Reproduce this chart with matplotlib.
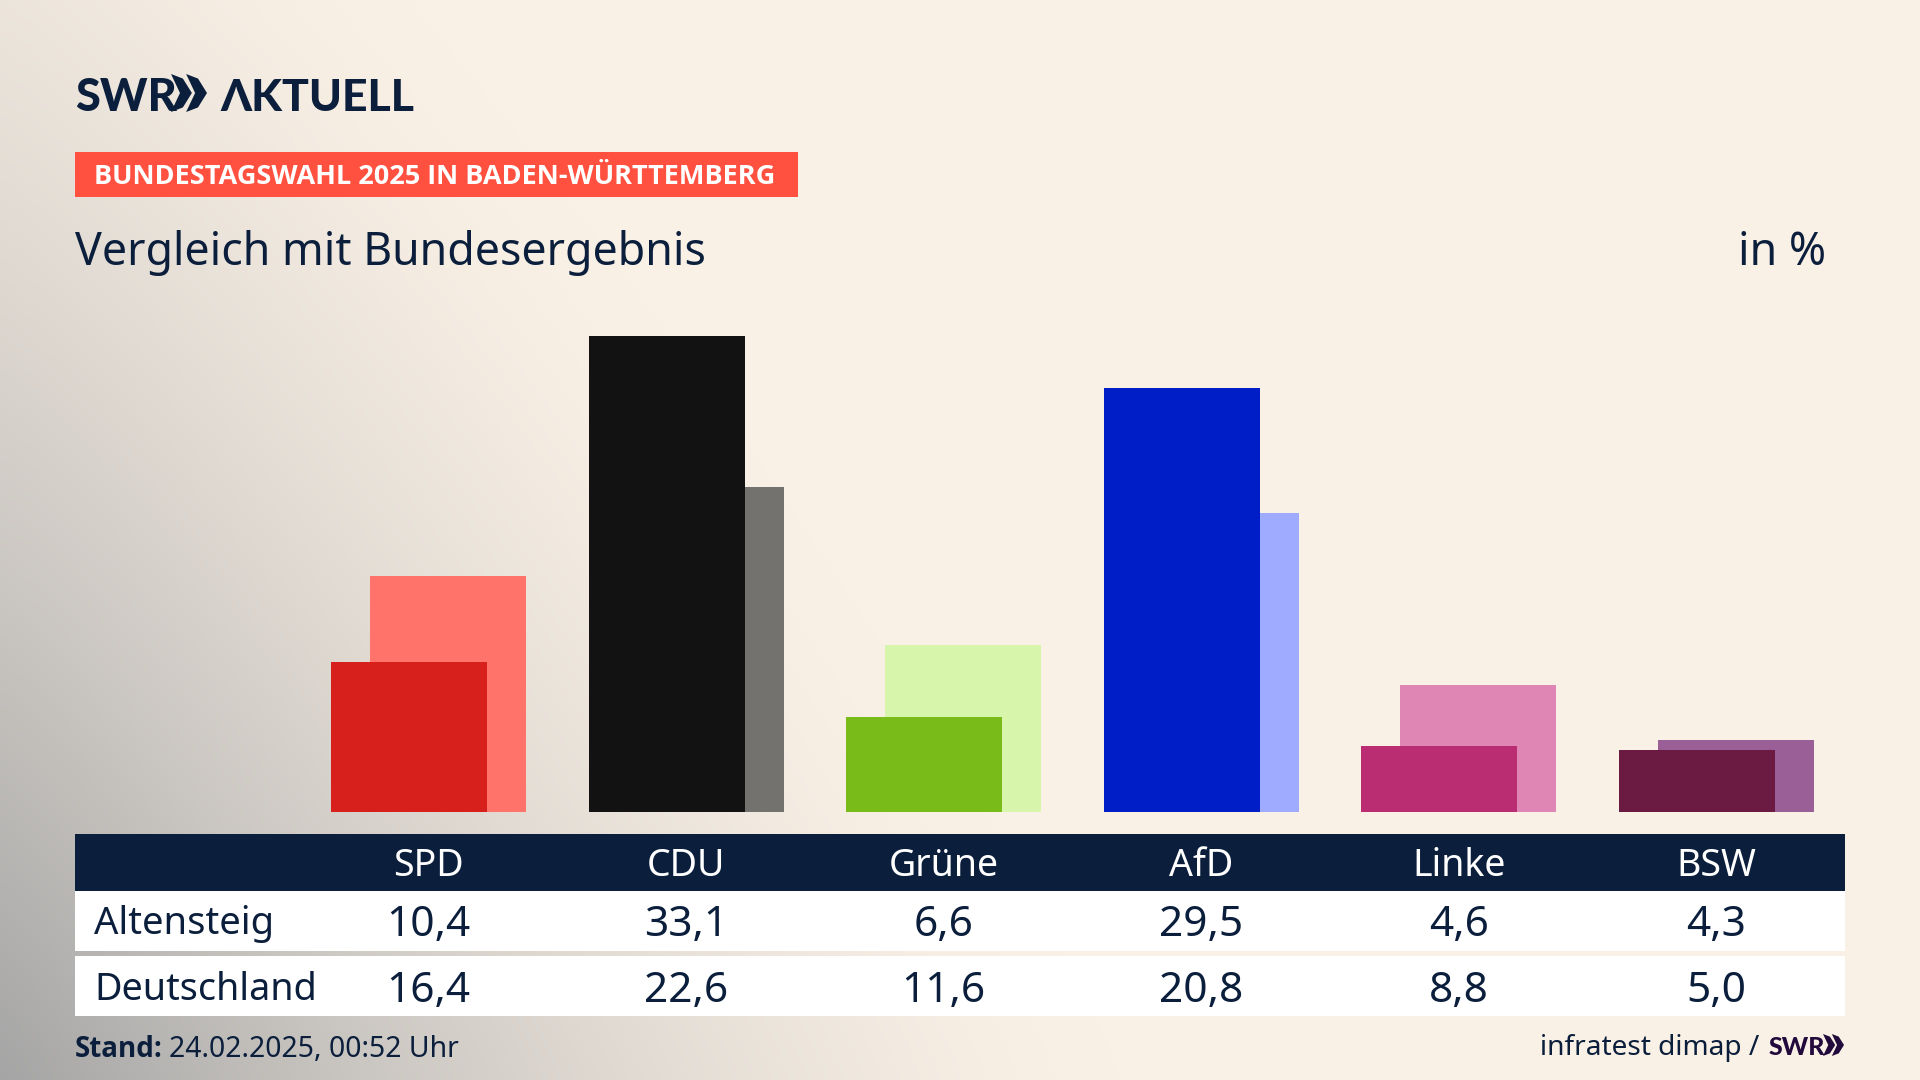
import numpy as np
from matplotlib import pyplot as plt
from matplotlib.patches import Rectangle, Polygon

parties = ['SPD', 'CDU', 'Grüne', 'AfD', 'Linke', 'BSW']
altensteig = [10.4, 33.1, 6.6, 29.5, 4.6, 4.3]
deutschland = [16.4, 22.6, 11.6, 20.8, 8.8, 5.0]
front_colors = ['#D71F1C', '#121212', '#79BC1A', '#001EC8', '#BA2D73', '#6B1A41']
back_colors = ['#FF736B', '#73726F', '#D7F6AB', '#9EABFF', '#DF86B4', '#9A5F96']

NAVY = '#0B1F3C'
plt.rcParams['font.family'] = 'Noto Sans'

W, H = 1920, 1080
fig = plt.figure(figsize=(19.2, 10.8), dpi=100)

# overlay in pixel coords for background, table and texts
bg = fig.add_axes([0, 0, 1, 1])
bg.set_xlim(0, W)
bg.set_ylim(H, 0)
bg.axis('off')

# grey glow from the lower left corner
xx, yy = np.meshgrid(np.linspace(0, W, 480), np.linspace(0, H, 270))
d = ((xx / 1120.) ** 1.15 + ((H - yy) / 1500.) ** 1.15) ** (1 / 1.15)
t = np.clip(1 - d, 0, 1) ** 1.45
cream = np.array([250, 241, 230]) / 255.
grey = np.array([165, 165, 165]) / 255.
img = cream[None, None, :] * (1 - t[..., None]) + grey[None, None, :] * t[..., None]
bg.imshow(img, extent=[0, W, H, 0], aspect='auto', zorder=0)


def chevrons(x0, y0, x1, y1, color):
    # the two arrows of the SWR logo
    total = x1 - x0
    h = y1 - y0
    mid = (y0 + y1) / 2.
    cw = 0.58 * total
    th = 0.33 * total
    for a in [x0, x1 - cw]:
        pts = [(a, y0), (a + th, y0 + 0.12 * h), (a + cw, mid), (a + th, y1 - 0.12 * h), (a, y1),
               (a + cw - th, mid)]
        bg.add_patch(Polygon(pts, closed=True, fc=color, ec='none', zorder=3))


# logo
bg.text(75, 111, 'SWR', fontsize=32.5, fontweight='black', family='Lato', color=NAVY, va='baseline', zorder=3)
chevrons(171, 74, 207, 112, NAVY)
bg.text(220, 111, 'ΛKTUELL', fontsize=32, fontweight='black', family='Lato', color=NAVY, va='baseline', zorder=3)

# red label
bg.add_patch(Rectangle((75, 152), 723, 45, fc='#FF5040', ec='none', zorder=2))
bg.text(94, 184, 'BUNDESTAGSWAHL 2025 IN BADEN-WÜRTTEMBERG', fontsize=19.55, fontweight='bold',
        family='Open Sans', color='white', va='baseline', zorder=3)

bg.text(75, 265, 'Vergleich mit Bundesergebnis', fontsize=32.2, color=NAVY, va='baseline', zorder=3)
bg.text(1826, 265, 'in %', fontsize=32.2, color=NAVY, ha='right', va='baseline', zorder=3)

# table
bg.add_patch(Rectangle((75, 834), 1770, 57, fc=NAVY, ec='none', zorder=2))
bg.add_patch(Rectangle((75, 891), 1770, 60, fc='white', ec='none', zorder=2))
bg.add_patch(Rectangle((75, 956), 1770, 60, fc='white', ec='none', zorder=2))

bg.text(94, 934, 'Altensteig', fontsize=27.5, color=NAVY, va='baseline', zorder=3)
bg.text(94, 1000, 'Deutschland', fontsize=27.2, color=NAVY, va='baseline', zorder=3)

x0 = 428.4
step = 257.6
for i in range(len(parties)):
    x = x0 + step * i
    bg.text(x, 876, parties[i], fontsize=27, color='white', ha='center', va='baseline', zorder=3)
    bg.text(x, 936, str(altensteig[i]).replace('.', ','), fontsize=30.5, color=NAVY,
            ha='center', va='baseline', zorder=3)
    bg.text(x, 1002, str(deutschland[i]).replace('.', ','), fontsize=30.5, color=NAVY,
            ha='center', va='baseline', zorder=3)

# footer
bg.text(75, 1057, 'Stand:', fontsize=20, fontweight='bold', family='Open Sans', color=NAVY, va='baseline', zorder=3)
bg.text(169, 1057, '24.02.2025, 00:52 Uhr', fontsize=20.4, color=NAVY, va='baseline', zorder=3)
bg.text(1759, 1055, 'infratest dimap /', fontsize=20.2, color=NAVY, ha='right', va='baseline', zorder=3)
bg.text(1769, 1055, 'SWR', fontsize=18, fontweight='black', family='Lato', color='#220A3C', va='baseline', zorder=3)
chevrons(1823, 1034, 1844, 1056, '#220A3C')

# bars, y scale is 14.38 px per percent, baseline at y=812
ymax = 35.
top_px = 812 - ymax * 14.38
ax = fig.add_axes([75. / W, 1 - 812. / H, 1770. / W, (812 - top_px) / H])
ax.patch.set_alpha(0)
ax.axis('off')
ax.set_xlim((75 - x0) / step, (1845 - x0) / step)
ax.set_ylim(0, ymax)

pos = np.arange(len(parties))
bar_w = 156. / step
shift = 19.5 / step
ax.bar(pos + shift, deutschland, width=bar_w, color=back_colors, zorder=1)
ax.bar(pos - shift, altensteig, width=bar_w, color=front_colors, zorder=2)

fig.savefig('out.png', dpi=100)
